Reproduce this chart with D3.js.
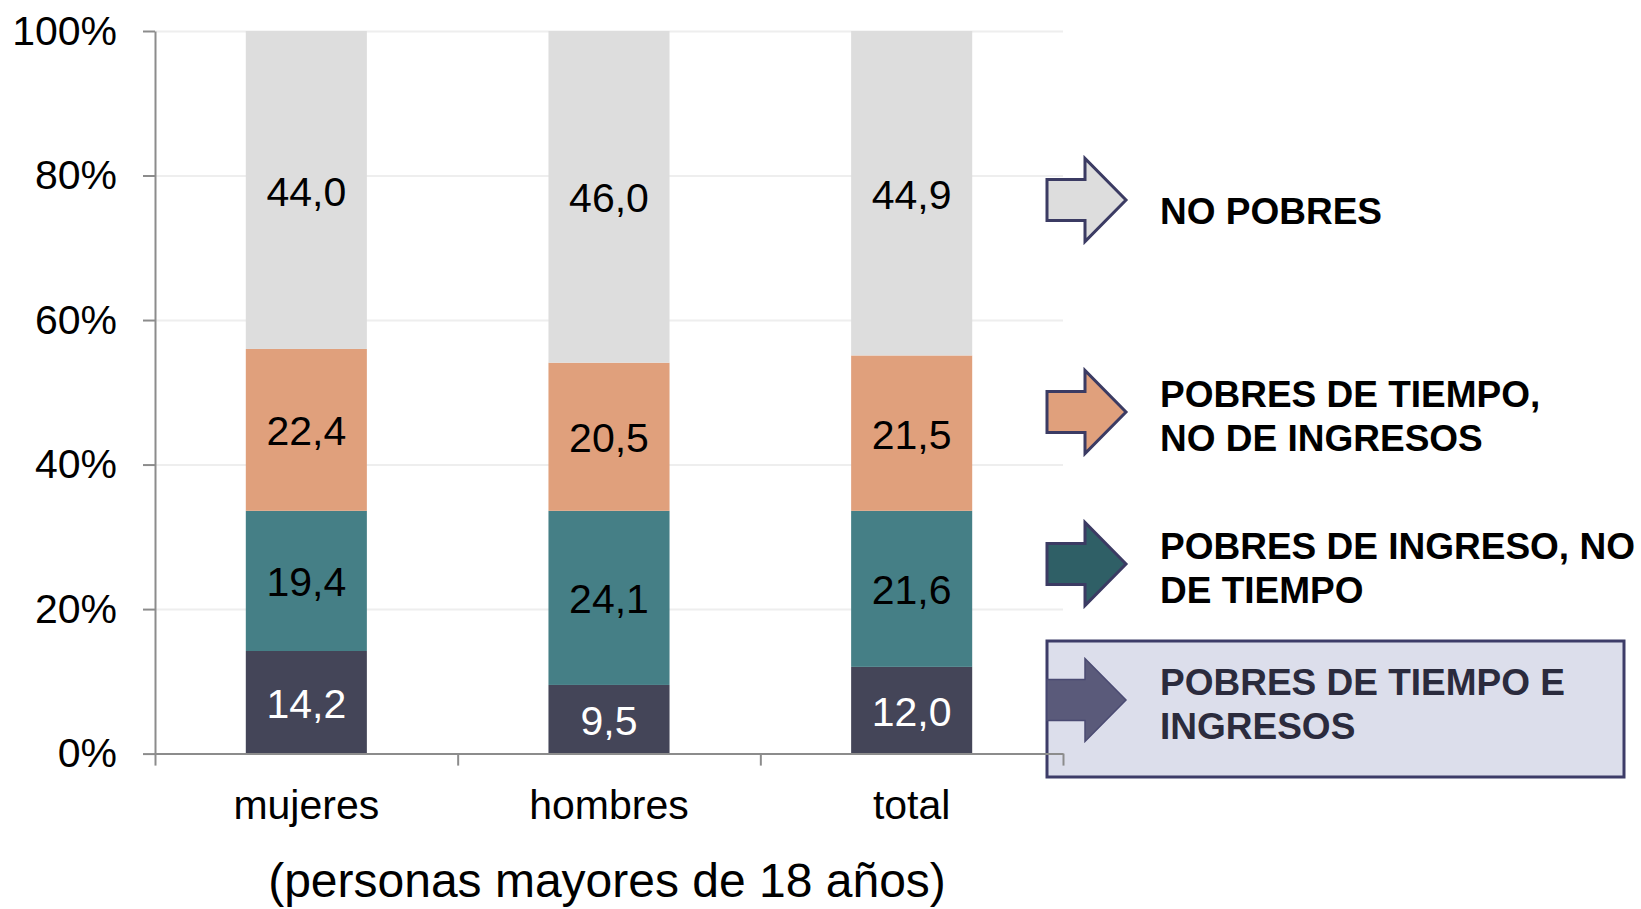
<!DOCTYPE html>
<html>
<head>
<meta charset="utf-8">
<script src="https://cdn.jsdelivr.net/npm/d3@7"></script>
<style>
  body { margin: 0; background: #fff; }
  text { font-family: "Liberation Sans", Arial, sans-serif; }
</style>
</head>
<body>
<div id="main"></div>
<script>
// data
const categories = ["mujeres", "hombres", "total"];
const seriesKeys = ["ambos", "soloIngreso", "soloTiempo", "noPobres"];
const ambos = [14.2, 9.5, 12.0];        // pobres de tiempo e ingresos
const soloIngreso = [19.4, 24.1, 21.6]; // pobres de ingreso, no de tiempo
const soloTiempo = [22.4, 20.5, 21.5];  // pobres de tiempo, no de ingresos
const noPobres = [44.0, 46.0, 44.9];
const yTicks = [0, 20, 40, 60, 80, 100];
const legendLabels = [
    ["NO POBRES"],
    ["POBRES DE TIEMPO,", "NO DE INGRESOS"],
    ["POBRES DE INGRESO, NO", "DE TIEMPO"],
    ["POBRES DE TIEMPO E", "INGRESOS"]
];
const subtitle = "(personas mayores de 18 años)";

const colors = { ambos: "#444558", soloIngreso: "#457f86", soloTiempo: "#e0a07c", noPobres: "#dddddd" };
const arrowColors = ["#dddddd", "#e0a07c", "#2f5f66", "#5a5a7a"];

const W = 1641, H = 909;
const plotLeft = 155, plotRight = 1063, plotTop = 31, plotBottom = 753.6;

const svg = d3.select("#main")
    .append("svg")
    .attr("width", W)
    .attr("height", H);

const table = categories.map((c, i) => ({
    cat: c, ambos: ambos[i], soloIngreso: soloIngreso[i], soloTiempo: soloTiempo[i], noPobres: noPobres[i]
}));
const stacked = d3.stack().keys(seriesKeys)(table);

const x = d3.scaleBand()
    .domain(categories)
    .range([plotLeft, plotRight])
    .paddingInner(0.6)
    .paddingOuter(0.3);

const y = d3.scaleLinear()
    .domain([0, 100])
    .range([plotBottom, plotTop])
    .clamp(true);

const fmt = d3.formatLocale({ decimal: ",", thousands: ".", grouping: [3], currency: ["", ""] }).format(".1f");

// gridlines
svg.append("g")
    .attr("transform", `translate(${plotLeft},0)`)
    .call(d3.axisLeft(y).tickValues(yTicks.slice(1)).tickSize(-(plotRight - plotLeft)).tickFormat(""))
    .call(g => g.select(".domain").remove())
    .selectAll("line")
    .attr("stroke", "#eeeeee")
    .attr("stroke-width", 2);

// legend box (behind the axis end)
svg.append("rect")
    .attr("x", 1047).attr("y", 641)
    .attr("width", 577).attr("height", 136)
    .attr("fill", "#dcdeeb")
    .attr("stroke", "#3d3c68")
    .attr("stroke-width", 3);

// bars
const layers = svg.selectAll(".layer")
    .data(stacked)
    .join("g")
    .attr("class", "layer")
    .attr("fill", d => colors[d.key]);

layers.selectAll("rect")
    .data(d => d)
    .join("rect")
    .attr("x", d => x(d.data.cat))
    .attr("y", d => y(d[1]))
    .attr("width", x.bandwidth())
    .attr("height", d => y(d[0]) - y(d[1]));

// value labels
layers.selectAll("text")
    .data(d => d.map(v => ({ v, key: d.key })))
    .join("text")
    .attr("x", d => x(d.v.data.cat) + x.bandwidth() / 2)
    .attr("y", d => (y(d.v[0]) + y(d.v[1])) / 2)
    .attr("dy", "0.38em")
    .attr("text-anchor", "middle")
    .style("font-size", "41px")
    .attr("fill", d => d.key === "ambos" ? "#ffffff" : "#000000")
    .text(d => fmt(d.v.data[d.key]));

// y axis
const yAxis = svg.append("g")
    .attr("transform", `translate(${plotLeft},0)`)
    .call(d3.axisLeft(y).tickValues(yTicks).tickFormat(d => d + "%").tickSize(12).tickSizeOuter(0).tickPadding(26));
yAxis.select(".domain").attr("stroke", "#8c8c8c").attr("stroke-width", 2);
yAxis.selectAll("line").attr("stroke", "#8c8c8c").attr("stroke-width", 2);
yAxis.selectAll("text").style("font-size", "41px").attr("fill", "#000");

// x axis: ticks at category boundaries
const xDiv = d3.scaleLinear().domain([0, categories.length]).range([plotLeft, plotRight]);
const xAxis = svg.append("g")
    .attr("transform", `translate(0,${plotBottom})`)
    .call(d3.axisBottom(xDiv).tickValues(d3.range(categories.length + 1)).tickFormat("").tickSize(12).tickSizeOuter(0));
xAxis.select(".domain").attr("stroke", "#8c8c8c").attr("stroke-width", 2);
xAxis.selectAll("line").attr("stroke", "#8c8c8c").attr("stroke-width", 2);

svg.append("g")
    .selectAll("text")
    .data(categories)
    .join("text")
    .attr("x", d => x(d) + x.bandwidth() / 2)
    .attr("y", 819)
    .attr("text-anchor", "middle")
    .style("font-size", "41px")
    .text(d => d);

svg.append("text")
    .attr("x", (plotLeft + plotRight) / 2 - 2)
    .attr("y", 897)
    .attr("text-anchor", "middle")
    .style("font-size", "48px")
    .text(subtitle);

// legend arrows + labels
const legendCenters = [200, 412, 564, 700];
const textCenters = [211, 416, 568, 704];
const arrowPath = "M0,-20.5 L38,-20.5 L38,-41.5 L79,0 L38,41.5 L38,20.5 L0,20.5 Z";

const legend = svg.selectAll(".legItem")
    .data(legendLabels)
    .join("g")
    .attr("class", "legItem");

legend.append("path")
    .attr("transform", (d, i) => `translate(1047,${legendCenters[i]})`)
    .attr("d", arrowPath)
    .attr("fill", (d, i) => arrowColors[i])
    .attr("stroke", (d, i) => i === 3 ? "#4a4a72" : "#3b3b63")
    .attr("stroke-width", (d, i) => i === 3 ? 1.5 : 3)
    .attr("stroke-linejoin", "miter");

legend.append("text")
    .attr("y", (d, i) => textCenters[i] - (d.length - 1) * 22)
    .style("font-size", "37px")
    .style("font-weight", "bold")
    .attr("fill", (d, i) => i === 3 ? "#2b2b3d" : "#000")
    .selectAll("tspan")
    .data(d => d)
    .join("tspan")
    .attr("x", 1160)
    .attr("dy", (d, j) => j === 0 ? "0.36em" : "44px")
    .text(d => d);

// keep the axis end above the legend box
xAxis.raise();
</script>
</body>
</html>
